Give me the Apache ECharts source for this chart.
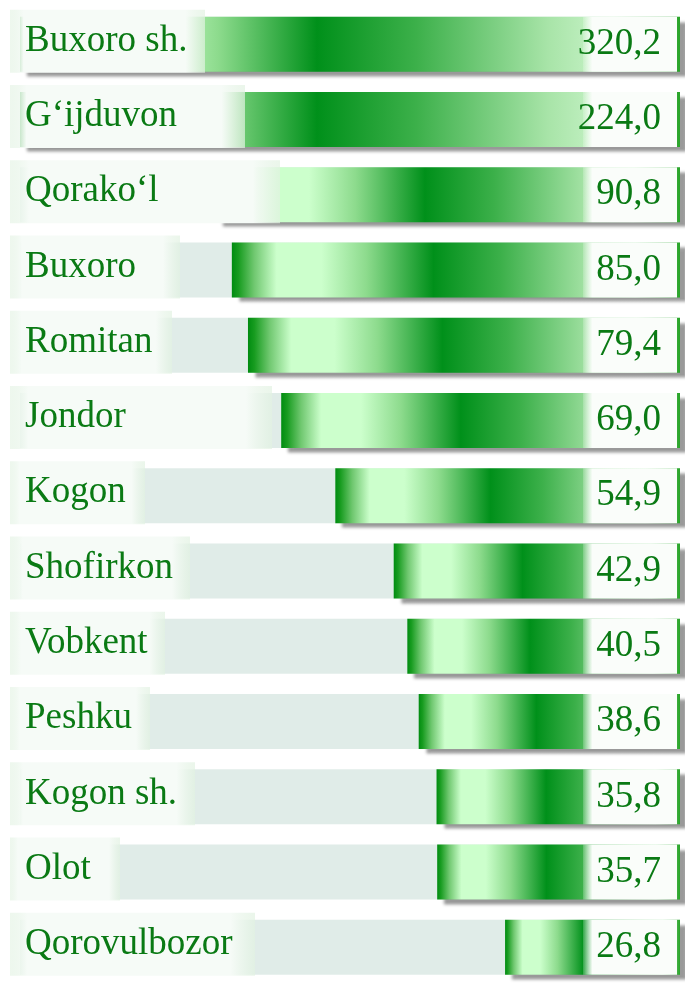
<!DOCTYPE html>
<html><head><meta charset="utf-8">
<script src="https://cdn.jsdelivr.net/npm/echarts@6/dist/echarts.min.js"></script>
<style>html,body{margin:0;padding:0;background:#fff}#c{width:685px;height:985px}</style>
</head><body><div id="c"></div>
<script>
// ---- data ----
const categories = ['Buxoro sh.', 'G\u2018ijduvon', 'Qorako\u2018l', 'Buxoro', 'Romitan', 'Jondor', 'Kogon', 'Shofirkon', 'Vobkent', 'Peshku', 'Kogon sh.', 'Olot', 'Qorovulbozor'];
const values = [320.2, 224.0, 90.8, 85.0, 79.4, 69.0, 54.9, 42.9, 40.5, 38.6, 35.8, 35.7, 26.8];

// ---- styling (not data) ----
const labelBoxWidths = [195, 235, 270, 170, 162, 262, 135, 180, 155, 140, 185, 110, 245];
const FONT = '"Liberation Serif", "Times New Roman", serif';
const TEXT_GREEN = '#0a7a14';

const G = echarts.graphic.LinearGradient;
const barGrad = new G(0, 0, 1, 0, [
  {offset: 0, color: '#008c10'},
  {offset: 0.015, color: '#189c20'},
  {offset: 0.05, color: '#70c870'},
  {offset: 0.1, color: '#ccffcc'},
  {offset: 0.2, color: '#ccffcc'},
  {offset: 0.3, color: '#8ddb8d'},
  {offset: 0.45, color: '#00901a'},
  {offset: 0.6, color: '#3cb04a'},
  {offset: 0.8, color: '#a8e4a8'},
  {offset: 0.9, color: '#ccf5cc'},
  {offset: 1, color: '#28a428'}
]);
const labelBg = new G(0, 0, 1, 0, [
  {offset: 0, color: 'rgba(226,242,226,0.6)'},
  {offset: 0.07, color: '#f6fbf7'},
  {offset: 0.9, color: '#f6fbf7'},
  {offset: 1, color: 'rgba(226,242,226,0.7)'}
]);
const valueBg = new G(0, 0, 1, 0, [
  {offset: 0, color: 'rgba(250,253,250,0.2)'},
  {offset: 0.1, color: '#fafdfa'},
  {offset: 1, color: '#fafdfa'}
]);

const rich = {};
labelBoxWidths.forEach((w, i) => {
  rich['b' + i] = {
    width: w - 15,
    padding: [13, 0, 13, 15],
    lineHeight: 36,
    fontSize: 37,
    fontFamily: FONT,
    color: TEXT_GREEN,
    backgroundColor: labelBg
  };
});

const chart = echarts.init(document.getElementById('c'), null, {renderer: 'canvas'});
chart.setOption({
  backgroundColor: '#ffffff',
  animation: false,
  grid: {left: 20, right: 5, top: 6.5, height: 987, containLabel: false},
  xAxis: {
    type: 'log', inverse: true, min: 12.8, max: 208, startValue: 12.8,
    show: false
  },
  yAxis: {
    type: 'category', data: categories, inverse: true, z: 10,
    axisLine: {show: false, onZero: false}, axisTick: {show: false}, splitLine: {show: false},
    axisLabel: {
      inside: true, margin: -10,
      padding: [0, 0, 6, 0],
      formatter: (val, idx) => '{b' + idx + '|' + val + '}',
      rich: rich
    }
  },
  series: [{
    type: 'bar',
    data: values,
    barWidth: 55,
    clip: true,
    showBackground: true,
    backgroundStyle: {color: '#e0ece8'},
    itemStyle: {
      color: barGrad,
      shadowColor: 'rgba(0,0,0,0.4)', shadowBlur: 3, shadowOffsetX: 7, shadowOffsetY: 5
    },
    label: {
      show: true, position: 'insideRight', distance: 3,
      formatter: p => p.value.toFixed(1).replace('.', ','),
      fontFamily: FONT, fontSize: 37, color: TEXT_GREEN,
      width: 78, align: 'right', lineHeight: 35,
      padding: [10, 16, 10, 0],
      backgroundColor: valueBg
    }
  }]
});
</script></body></html>
